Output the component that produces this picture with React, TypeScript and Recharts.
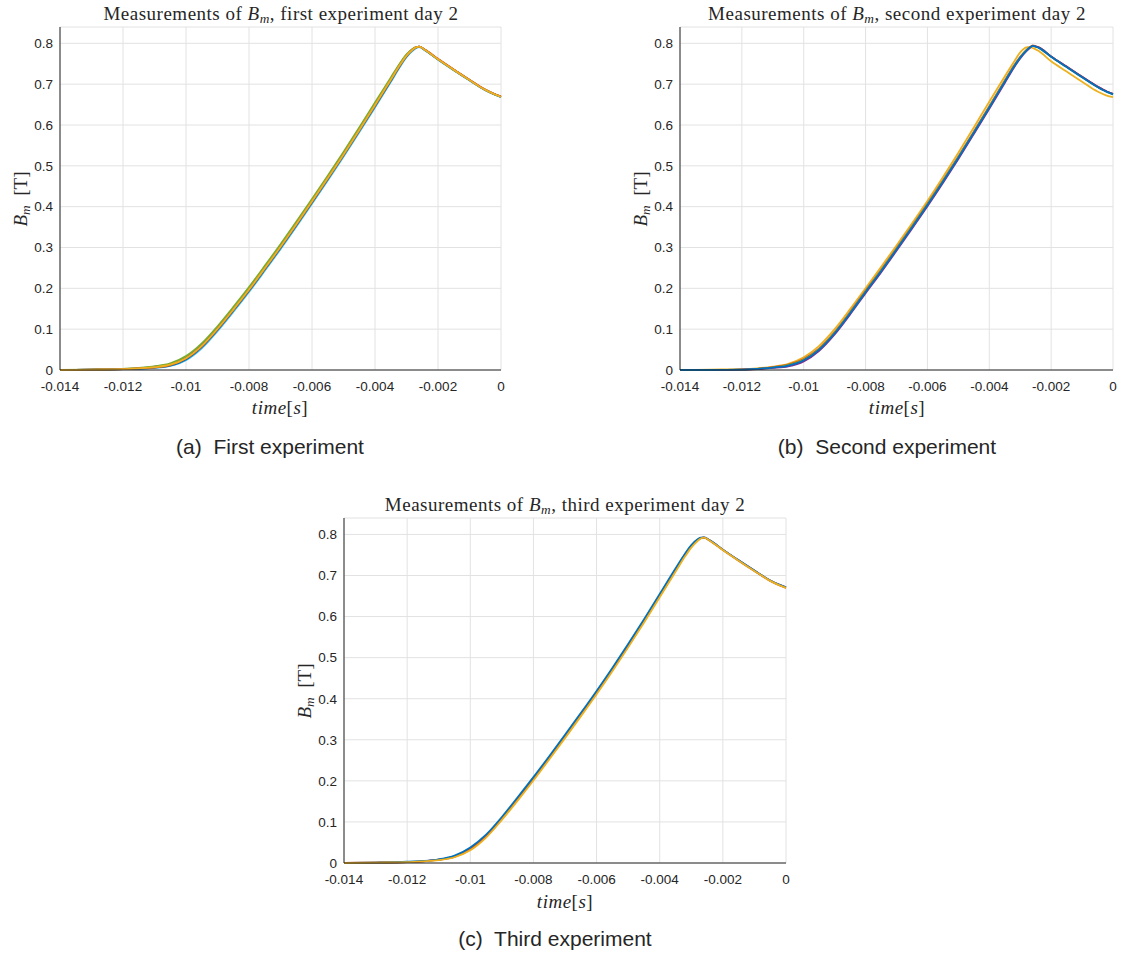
import React from 'react';
import { LineChart, Line, XAxis, YAxis, CartesianGrid } from 'recharts';

// shared time base (s)
const timeS = [
  -0.014, -0.013, -0.012, -0.0115, -0.011, -0.0105, -0.01, -0.0095, -0.009, -0.0085, -0.008,
  -0.0075, -0.007, -0.0065, -0.006, -0.0055, -0.005, -0.0045, -0.004, -0.0035, -0.0032, -0.003,
  -0.0028, -0.0027, -0.0026, -0.0024, -0.002, -0.0015, -0.001, -0.0005, -0.0002, 0,
];

const xTicks = [-0.014, -0.012, -0.01, -0.008, -0.006, -0.004, -0.002, 0];
const xTickLabels = ['-0.014', '-0.012', '-0.01', '-0.008', '-0.006', '-0.004', '-0.002', '0'];
const yTicks = [0, 0.1, 0.2, 0.3, 0.4, 0.5, 0.6, 0.7, 0.8];
const yTickLabels = ['0', '0.1', '0.2', '0.3', '0.4', '0.5', '0.6', '0.7', '0.8'];

// first experiment
const aPurple = [0, 0.001, 0.002, 0.004, 0.008, 0.014, 0.031, 0.061, 0.103, 0.15, 0.199, 0.251, 0.304, 0.359, 0.415, 0.472, 0.53, 0.59, 0.651, 0.713, 0.75, 0.771, 0.786, 0.79, 0.792, 0.783, 0.761, 0.735, 0.71, 0.686, 0.675, 0.669];
const aCyan = [0, 0.001, 0.002, 0.003, 0.005, 0.01, 0.024, 0.053, 0.095, 0.142, 0.191, 0.243, 0.296, 0.351, 0.407, 0.464, 0.522, 0.582, 0.643, 0.705, 0.743, 0.766, 0.782, 0.788, 0.791, 0.782, 0.76, 0.734, 0.709, 0.685, 0.674, 0.668];
const aGreen = [0, 0.001, 0.003, 0.005, 0.009, 0.016, 0.034, 0.065, 0.107, 0.154, 0.203, 0.255, 0.308, 0.363, 0.419, 0.476, 0.534, 0.594, 0.655, 0.716, 0.752, 0.773, 0.787, 0.791, 0.792, 0.783, 0.761, 0.735, 0.71, 0.686, 0.675, 0.669];
const aBlue = [0, 0.001, 0.002, 0.003, 0.006, 0.011, 0.026, 0.056, 0.098, 0.145, 0.194, 0.246, 0.299, 0.354, 0.41, 0.467, 0.525, 0.585, 0.646, 0.708, 0.746, 0.768, 0.784, 0.789, 0.792, 0.783, 0.761, 0.735, 0.71, 0.686, 0.675, 0.669];
const aRed = [0, 0.001, 0.002, 0.004, 0.006, 0.012, 0.028, 0.058, 0.1, 0.147, 0.196, 0.248, 0.301, 0.356, 0.412, 0.469, 0.527, 0.587, 0.648, 0.71, 0.747, 0.769, 0.785, 0.79, 0.792, 0.784, 0.762, 0.736, 0.711, 0.687, 0.676, 0.67];
const aYellow = [0, 0.001, 0.002, 0.004, 0.007, 0.013, 0.029, 0.059, 0.101, 0.148, 0.197, 0.249, 0.302, 0.357, 0.413, 0.47, 0.528, 0.588, 0.649, 0.711, 0.748, 0.77, 0.785, 0.79, 0.792, 0.783, 0.761, 0.735, 0.71, 0.686, 0.675, 0.669];

// second experiment
const bYellowL = [0, 0.001, 0.002, 0.004, 0.008, 0.015, 0.031, 0.059, 0.1, 0.149, 0.2, 0.252, 0.305, 0.359, 0.414, 0.472, 0.532, 0.594, 0.657, 0.719, 0.755, 0.778, 0.79, 0.791, 0.789, 0.781, 0.756, 0.731, 0.706, 0.682, 0.672, 0.668];
const bRed = [0, 0, 0.001, 0.003, 0.007, 0.013, 0.027, 0.053, 0.093, 0.142, 0.194, 0.245, 0.298, 0.352, 0.407, 0.464, 0.523, 0.584, 0.646, 0.709, 0.746, 0.767, 0.784, 0.79, 0.795, 0.79, 0.768, 0.743, 0.718, 0.694, 0.682, 0.676];
const bGreen = [0, 0, 0.001, 0.003, 0.006, 0.012, 0.025, 0.051, 0.091, 0.14, 0.192, 0.243, 0.296, 0.35, 0.405, 0.462, 0.521, 0.582, 0.644, 0.707, 0.744, 0.766, 0.783, 0.789, 0.794, 0.789, 0.767, 0.742, 0.717, 0.693, 0.681, 0.675];
const bPurple = [0, 0, 0.001, 0.002, 0.005, 0.009, 0.021, 0.047, 0.087, 0.136, 0.188, 0.239, 0.292, 0.346, 0.401, 0.458, 0.517, 0.578, 0.64, 0.703, 0.741, 0.763, 0.781, 0.788, 0.794, 0.79, 0.768, 0.743, 0.718, 0.694, 0.682, 0.676];
const bBlue = [0, 0, 0.001, 0.003, 0.006, 0.011, 0.024, 0.05, 0.09, 0.139, 0.191, 0.242, 0.295, 0.349, 0.404, 0.461, 0.52, 0.581, 0.643, 0.706, 0.743, 0.765, 0.782, 0.789, 0.794, 0.789, 0.767, 0.742, 0.717, 0.693, 0.681, 0.675];

// third experiment
const cPurple = [0, 0.001, 0.002, 0.004, 0.008, 0.016, 0.035, 0.066, 0.109, 0.157, 0.206, 0.257, 0.309, 0.362, 0.416, 0.472, 0.53, 0.59, 0.652, 0.714, 0.751, 0.772, 0.787, 0.791, 0.793, 0.785, 0.763, 0.737, 0.712, 0.688, 0.677, 0.671];
const cRed = [0, 0.001, 0.002, 0.004, 0.008, 0.015, 0.033, 0.064, 0.107, 0.155, 0.204, 0.255, 0.307, 0.36, 0.414, 0.47, 0.528, 0.588, 0.65, 0.712, 0.749, 0.77, 0.786, 0.791, 0.792, 0.784, 0.762, 0.736, 0.711, 0.687, 0.676, 0.67];
const cBlue = [0, 0.001, 0.003, 0.005, 0.009, 0.018, 0.038, 0.069, 0.112, 0.16, 0.209, 0.26, 0.312, 0.365, 0.419, 0.475, 0.533, 0.593, 0.655, 0.717, 0.753, 0.774, 0.788, 0.792, 0.793, 0.785, 0.763, 0.737, 0.712, 0.688, 0.677, 0.671];
const cYellow = [0, 0.001, 0.002, 0.004, 0.007, 0.014, 0.031, 0.062, 0.105, 0.152, 0.201, 0.252, 0.304, 0.357, 0.411, 0.467, 0.525, 0.585, 0.647, 0.709, 0.746, 0.768, 0.784, 0.79, 0.792, 0.784, 0.762, 0.736, 0.711, 0.687, 0.676, 0.67];

const C = {
  blue: '#0072BD', red: '#D95319', yellow: '#EDB120', purple: '#7E2F8E',
  green: '#77AC30', cyan: '#4DBEEE',
};

type Series = { color: string; values: number[] };

const seriesA: Series[] = [
  { color: C.purple, values: aPurple }, { color: C.cyan, values: aCyan }, { color: C.green, values: aGreen },
  { color: C.blue, values: aBlue }, { color: C.red, values: aRed }, { color: C.yellow, values: aYellow },
];
const seriesB: Series[] = [
  { color: C.yellow, values: bYellowL }, { color: C.red, values: bRed }, { color: C.green, values: bGreen },
  { color: C.purple, values: bPurple }, { color: C.blue, values: bBlue },
];
const seriesC: Series[] = [
  { color: C.purple, values: cPurple }, { color: C.red, values: cRed }, { color: C.blue, values: cBlue },
  { color: C.yellow, values: cYellow },
];

const serif = '"Liberation Serif", "DejaVu Serif", serif';
const sans = '"Liberation Sans", Arial, sans-serif';
const axisColor = '#262626';

function Bm() {
  return (
    <span style={{ fontStyle: 'italic' }}>
      B<sub style={{ fontSize: '0.7em', verticalAlign: '-0.25em', lineHeight: 0 }}>m</sub>
    </span>
  );
}

function Panel({ left, top, width, height, yAxisWidth, marginRight, series }: {
  left: number; top: number; width: number; height: number; yAxisWidth: number; marginRight: number; series: Series[];
}) {
  const data = timeS.map((t, i) => {
    const row: Record<string, number> = { t };
    series.forEach((s, k) => { row['s' + k] = s.values[i]; });
    return row;
  });
  return (
    <div style={{ position: 'absolute', left, top }}>
      <LineChart width={width} height={height} data={data} margin={{ top: 27, right: marginRight, left: 0, bottom: 0 }}>
        <CartesianGrid stroke="#e2e2e2" />
        <XAxis
          dataKey="t"
          type="number"
          domain={[-0.014, 0]}
          ticks={xTicks}
          tickFormatter={(v) => xTickLabels[xTicks.indexOf(v)] ?? String(v)}
          height={30}
          tickSize={0}
          tickMargin={11}
          stroke={axisColor}
          tick={{ fill: axisColor, fontSize: 13.5, fontFamily: sans }}
          interval={0}
        />
        <YAxis
          type="number"
          domain={[0, 0.84]}
          ticks={yTicks}
          tickFormatter={(v) => yTickLabels[yTicks.indexOf(v)] ?? String(v)}
          width={yAxisWidth}
          tickSize={0}
          tickMargin={7}
          stroke={axisColor}
          tick={{ fill: axisColor, fontSize: 13.5, fontFamily: sans }}
          interval={0}
        />
        {series.map((s, k) => (
          <Line
            key={k}
            dataKey={'s' + k}
            stroke={s.color}
            strokeWidth={1.8}
            dot={false}
            type="monotone"
            isAnimationActive={false}
          />
        ))}
      </LineChart>
    </div>
  );
}

function Text({ x, y, size, family, children, rotate, spacing }: {
  x: number; y: number; size: number; family: string; children: React.ReactNode; rotate?: boolean; spacing?: number;
}) {
  return (
    <div
      style={{
        position: 'absolute', left: x, top: y, whiteSpace: 'nowrap', fontSize: size, fontFamily: family,
        color: '#262626', lineHeight: 1, letterSpacing: spacing ?? 0,
        transform: `translate(-50%, -50%)${rotate ? ' rotate(-90deg)' : ''}`,
      }}
    >
      {children}
    </div>
  );
}

export default function App() {
  return (
    <div style={{ position: 'absolute', left: 0, top: 0, width: 1131, height: 956, background: '#fff', overflow: 'hidden' }}>
      <Panel left={0} top={0} width={520} height={400} yAxisWidth={60} marginRight={19} series={seriesA} />
      <Panel left={600} top={0} width={531} height={400} yAxisWidth={80} marginRight={18} series={seriesB} />
      <Panel left={280} top={491} width={520} height={402} yAxisWidth={64} marginRight={14} series={seriesC} />

      <Text x={281} y={13} size={19} spacing={0.5} family={serif}>Measurements of <Bm />, first experiment day 2</Text>
      <Text x={897} y={13} size={19} spacing={0.5} family={serif}>Measurements of <Bm />, second experiment day 2</Text>
      <Text x={565} y={504} size={19} spacing={0.5} family={serif}>Measurements of <Bm />, third experiment day 2</Text>

      <Text x={280} y={407} size={19} spacing={0.5} family={serif}><i>time</i>[<i>s</i>]</Text>
      <Text x={897} y={407} size={19} spacing={0.5} family={serif}><i>time</i>[<i>s</i>]</Text>
      <Text x={565} y={901} size={19} spacing={0.5} family={serif}><i>time</i>[<i>s</i>]</Text>

      <Text x={20} y={199} size={19} family={serif} rotate><Bm />&nbsp;&nbsp;[T]</Text>
      <Text x={640} y={199} size={19} family={serif} rotate><Bm />&nbsp;&nbsp;[T]</Text>
      <Text x={304} y={691} size={19} family={serif} rotate><Bm />&nbsp;&nbsp;[T]</Text>

      <Text x={270} y={446} size={21} family={sans}>(a)&nbsp; First experiment</Text>
      <Text x={887} y={446} size={21} family={sans}>(b)&nbsp; Second experiment</Text>
      <Text x={555} y={938} size={21} family={sans}>(c)&nbsp; Third experiment</Text>
    </div>
  );
}
